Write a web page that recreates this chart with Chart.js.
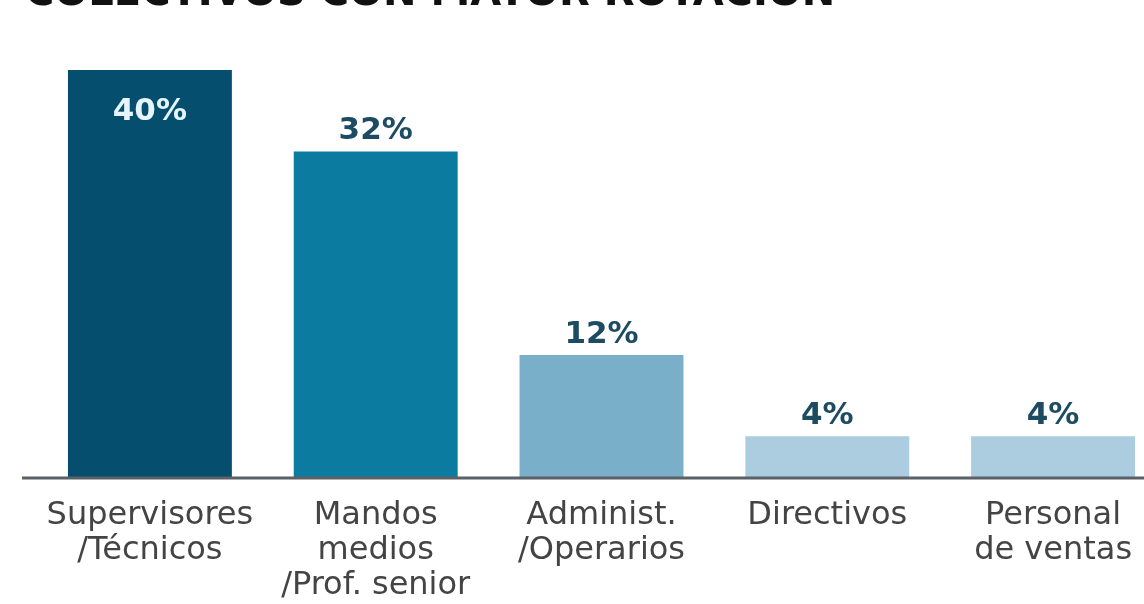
<!DOCTYPE html>
<html lang="es">
<head>
<meta charset="utf-8">
<title>Colectivos con mayor rotación</title>
<script src="https://cdn.jsdelivr.net/npm/chart.js@4"></script>
<style>
  html, body { margin: 0; padding: 0; background: #fff; }
  body { width: 1144px; height: 604px; overflow: hidden; position: relative; }
  #wrap { position: absolute; left: 0; top: 0; width: 1170px; height: 604px; }
</style>
</head>
<body>
<div id="wrap"><canvas id="chart" width="1170" height="604"></canvas></div>
<script>
const title = 'COLECTIVOS CON MAYOR ROTACIÓN';
const categories = [
    ['Supervisores', '/Técnicos'],
    ['Mandos', 'medios', '/Prof. senior'],
    ['Administ.', '/Operarios'],
    ['Directivos'],
    ['Personal', 'de ventas']
];
const values = [40, 32, 12, 4, 4];
const barColors = ['#054e6e', '#0b7b9f', '#79afc9', '#acccdf', '#acccdf'];

// titulo cortado arriba, linea base y etiquetas de valor
const decorPlugin = {
    id: 'decor',
    afterDatasetsDraw(chart) {
        const ctx = chart.ctx;
        const area = chart.chartArea;
        ctx.save();

        ctx.strokeStyle = '#5b6166';
        ctx.lineWidth = 3;
        ctx.beginPath();
        ctx.moveTo(22, area.bottom + 1);
        ctx.lineTo(chart.width, area.bottom + 1);
        ctx.stroke();

        ctx.font = 'bold 31px "DejaVu Sans"';
        ctx.textAlign = 'center';
        ctx.textBaseline = 'alphabetic';
        const maxVal = Math.max(...values);
        chart.getDatasetMeta(0).data.forEach((bar, i) => {
            const txt = values[i] + '%';
            if (values[i] === maxVal) {
                ctx.fillStyle = '#e6f5fb';
                ctx.fillText(txt, bar.x, bar.y + 50);
            } else {
                ctx.fillStyle = '#1d4b61';
                ctx.fillText(txt, bar.x, bar.y - 12);
            }
        });

        ctx.fillStyle = '#111';
        ctx.textAlign = 'left';
        ctx.font = 'bold 40px "DejaVu Sans"';
        ctx.fillText(title, 25, 5);
        ctx.restore();
    }
};

new Chart(document.getElementById('chart'), {
    type: 'bar',
    data: {
        labels: categories,
        datasets: [{
            data: values,
            backgroundColor: barColors,
            borderWidth: 0,
            barPercentage: 0.726,
            categoryPercentage: 1
        }]
    },
    options: {
        responsive: false,
        animation: false,
        devicePixelRatio: 1,
        layout: { padding: { left: 37, right: 4, top: 70, bottom: 0 } },
        plugins: {
            legend: { display: false },
            tooltip: { enabled: false }
        },
        scales: {
            x: {
                grid: { display: false, drawTicks: false },
                border: { display: false },
                ticks: {
                    padding: 21,
                    maxRotation: 0,
                    autoSkip: false,
                    color: '#444444',
                    font: { family: '"DejaVu Sans"', size: 32, lineHeight: 1.1 }
                },
                afterFit(scale) { scale.height = 127; }
            },
            y: {
                display: false,
                min: 0,
                max: 40
            }
        }
    },
    plugins: [decorPlugin]
});
</script>
</body>
</html>
